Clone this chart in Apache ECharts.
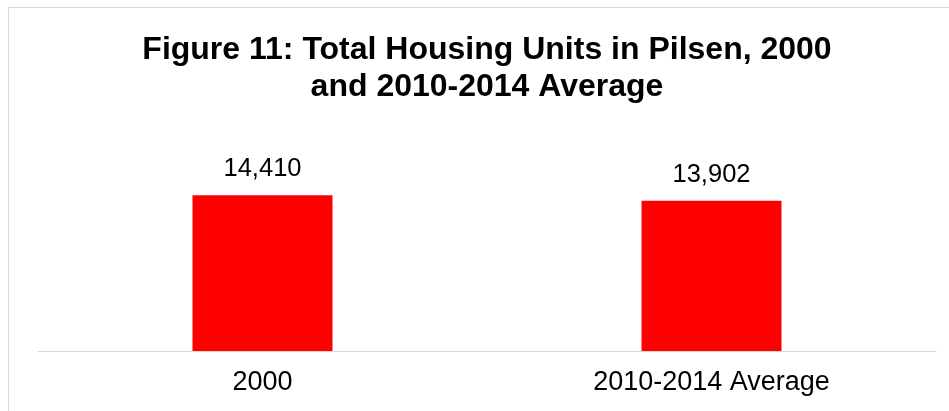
<!DOCTYPE html>
<html>
<head>
<meta charset="utf-8">
<script src="https://cdn.jsdelivr.net/npm/echarts@6/dist/echarts.min.js"></script>
<style>
html,body{margin:0;padding:0;background:#fff;}
#frame{position:absolute;left:8px;top:7px;width:960px;height:420px;border:1px solid #d9d9d9;box-sizing:border-box;}
#main{width:949px;height:411px;position:absolute;left:0;top:0;}
</style>
</head>
<body>
<div id="frame"></div>
<div id="main"></div>
<script>
// chart data
var categories = ['2000', '2010-2014 Average'];
var housingUnits = [14410, 13902];
var titleText = 'Figure 11: Total Housing Units in Pilsen, 2000\nand 2010-2014 Average';

var chart = echarts.init(document.getElementById('main'));
var option = {
	animation: false,
	title: {
		text: titleText,
		left: 482,
		textAlign: 'center', // title centre sits a little right of the page centre
		top: 27,
		textStyle: {
			fontFamily: 'Liberation Sans',
			fontWeight: 'bold',
			fontSize: 32,
			lineHeight: 37,
			color: '#000'
		}
	},
	grid: {
		left: 38,
		right: 13,
		top: 178,
		bottom: 60
	},
	xAxis: {
		type: 'category',
		data: categories,
		axisLine: { show: true, lineStyle: { color: '#d9d9d9', width: 1 } },
		axisTick: { show: false },
		axisLabel: {
			margin: 18,
			fontFamily: 'Liberation Sans',
			fontSize: 27,
			color: '#000'
		}
	},
	yAxis: {
		type: 'value',
		min: 0,
		max: 16000,
		show: false,
		splitLine: { show: false }
	},
	series: [{
		type: 'bar',
		data: housingUnits,
		barWidth: 140,
		itemStyle: { color: '#ff0000' },
		label: {
			show: true,
			position: 'top',
			distance: 13,
			fontFamily: 'Liberation Sans',
			fontSize: 25.5,
			color: '#000',
			formatter: function (p) {
				return p.value.toLocaleString('en-US');
			}
		}
	}]
};
chart.setOption(option);
</script>
</body>
</html>
